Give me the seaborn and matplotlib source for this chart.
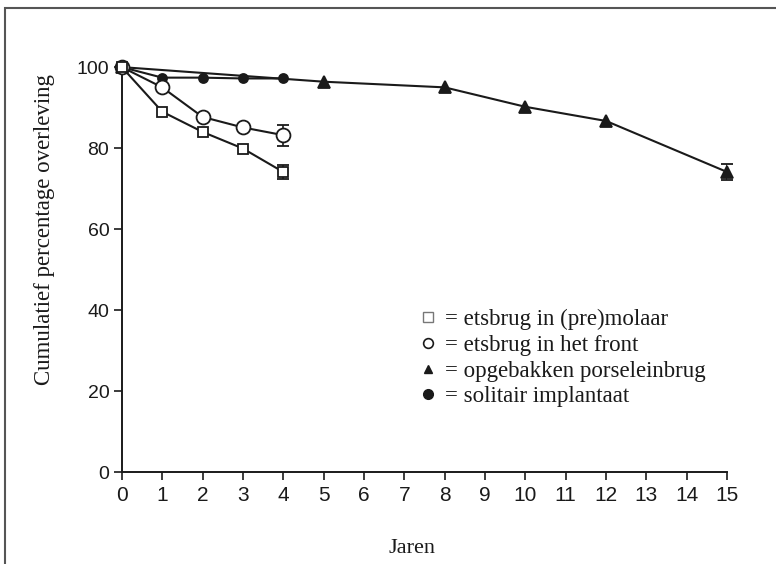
import numpy as np
import pandas as pd
import seaborn as sns
import matplotlib.pyplot as plt
from matplotlib.lines import Line2D
from matplotlib.patches import Rectangle

# Gegevens
jaren_molaar = [0, 1, 2, 3, 4]
overleving_molaar = [100, 89.0, 84.0, 79.9, 74.1]
jaren_front = [0, 1, 2, 3, 4]
overleving_front = [100, 95.0, 87.7, 85.1, 83.2]
jaren_porselein = [0, 5, 8, 10, 12, 15]
overleving_porselein = [100, 96.4, 95.0, 90.2, 86.7, 74.1]
jaren_implantaat = [0, 1, 2, 3, 4]
overleving_implantaat = [100, 97.4, 97.4, 97.2, 97.2]

# foutbalken alleen bij het laatste punt
fout_molaar = 1.8
fout_front = 2.6
fout_porselein = 2.0

labels = [
    "= etsbrug in (pre)molaar",
    "= etsbrug in het front",
    "= opgebakken porseleinbrug",
    "= solitair implantaat",
]
x_ticks = list(range(0, 16))
y_ticks = [0, 20, 40, 60, 80, 100]

sns.set_style("ticks")
plt.rcParams["font.family"] = ["Liberation Sans", "DejaVu Sans"]

fig = plt.figure(figsize=(7.76, 5.64), dpi=100)
ax = fig.add_axes([0.157, 0.163, 0.78, 0.718])

zwart = "#1a1a1a"
series = [
    (jaren_porselein, overleving_porselein, "^", zwart, 8.5),
    (jaren_implantaat, overleving_implantaat, "o", zwart, 6.5),
    (jaren_front, overleving_front, "o", "white", 10),
    (jaren_molaar, overleving_molaar, "s", "white", 7.5),
]
for x, y, marker, face, size in series:
    df = pd.DataFrame({"Jaren": x, "Overleving": y})
    sns.lineplot(
        data=df, x="Jaren", y="Overleving", ax=ax, color=zwart,
        linewidth=1.5, marker=marker, markersize=size,
        markerfacecolor=face, markeredgecolor=zwart, markeredgewidth=1.3,
        zorder=3,
    )

# foutbalken
for x, y, err in [
    (jaren_molaar[-1], overleving_molaar[-1], fout_molaar),
    (jaren_front[-1], overleving_front[-1], fout_front),
    (jaren_porselein[-1], overleving_porselein[-1], fout_porselein),
]:
    ax.errorbar([x], [y], yerr=[err], fmt="none", ecolor=zwart,
                elinewidth=1.2, capsize=4, capthick=1.3, zorder=2)

ax.set_xlim(0, 15)
ax.set_ylim(0, 100)
ax.set_xticks(x_ticks)
ax.set_yticks(y_ticks)
ax.set_xticklabels([str(t) for t in x_ticks], fontsize=15)
ax.set_yticklabels([str(t) for t in y_ticks], fontsize=14)
ax.tick_params(axis="both", direction="out", length=6, width=1.2, colors=zwart, pad=3)
ax.tick_params(axis="x", pad=4)
sns.despine(ax=ax)
for s in ["left", "bottom"]:
    ax.spines[s].set_linewidth(1.4)
    ax.spines[s].set_color(zwart)
for line in ax.lines:
    line.set_clip_on(False)

serif = ["Liberation Serif", "DejaVu Serif"]
ax.set_xlabel("Jaren", family=serif, fontsize=16, color=zwart)
ax.set_ylabel("Cumulatief percentage overleving", family=serif, fontsize=16.5, color=zwart)
ax.xaxis.set_label_coords(0.48, -0.165)
ax.yaxis.set_label_coords(-0.111, 0.598)

# legenda
handles = [
    Line2D([], [], linestyle="none", marker="s", markersize=7,
           markerfacecolor="white", markeredgecolor="#777777", markeredgewidth=1),
    Line2D([], [], linestyle="none", marker="o", markersize=7,
           markerfacecolor="white", markeredgecolor=zwart, markeredgewidth=1.2),
    Line2D([], [], linestyle="none", marker="^", markersize=6,
           markerfacecolor=zwart, markeredgecolor=zwart),
    Line2D([], [], linestyle="none", marker="o", markersize=7,
           markerfacecolor=zwart, markeredgecolor=zwart),
]
leg = ax.legend(handles, labels, loc="upper left", bbox_to_anchor=(0.487, 0.402),
                frameon=False, handlelength=1.0, handletextpad=0.25,
                labelspacing=0.2, prop={"family": serif, "size": 16.5},
                borderaxespad=0, borderpad=0)
for t in leg.get_texts():
    t.set_color(zwart)

# kader rond de figuur
fig.patches.append(Rectangle((0.007, -0.01), 1.0, 0.995, transform=fig.transFigure,
                             fill=False, edgecolor="#555555", linewidth=1.5))

fig.savefig("out.png", dpi=100)
